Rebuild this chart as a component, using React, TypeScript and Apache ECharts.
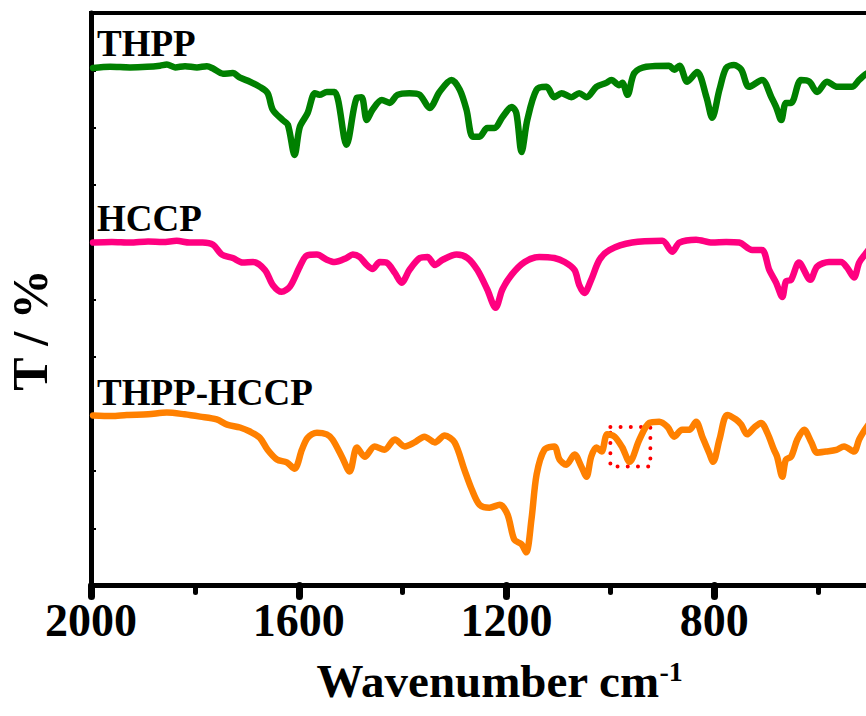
import React, { useEffect, useRef } from "react";
import * as echarts from "echarts";

// FTIR spectra: [wavenumber (cm-1), offset transmittance]
const thppPoints: [number, number][] = [
  [1996, 9.04], [1963, 9.06], [1925, 9.05], [1892, 9.06], [1867, 9.08], [1854, 9.1],
  [1838, 9.05], [1819, 9.07], [1796, 9.05], [1777, 9.07], [1765, 9.03], [1746, 8.94],
  [1727, 8.95], [1713, 8.87], [1694, 8.8], [1675, 8.71], [1660, 8.6], [1650, 8.31],
  [1631, 8.13], [1621, 8.05], [1608, 7.52], [1598, 8.01], [1583, 8.25], [1569, 8.6],
  [1560, 8.57], [1546, 8.62], [1531, 8.62], [1508, 7.7], [1488, 8.52], [1479, 8.53],
  [1469, 8.13], [1458, 8.31], [1440, 8.48], [1425, 8.43], [1410, 8.57], [1387, 8.6],
  [1367, 8.57], [1348, 8.34], [1329, 8.62], [1306, 8.83], [1290, 8.66], [1277, 8.31],
  [1265, 7.84], [1252, 7.84], [1237, 7.99], [1223, 7.99], [1208, 8.18], [1190, 8.36],
  [1181, 8.25], [1171, 7.57], [1160, 8.13], [1142, 8.66], [1123, 8.71], [1108, 8.53],
  [1094, 8.6], [1075, 8.53], [1060, 8.6], [1046, 8.53], [1027, 8.71], [1008, 8.78],
  [998, 8.83], [983, 8.74], [977, 8.78], [967, 8.57], [954, 8.95], [931, 9.06],
  [887, 9.08], [877, 9.01], [867, 9.08], [852, 8.8], [833, 8.97], [815, 8.53],
  [804, 8.17], [790, 8.66], [777, 9.04], [762, 9.09], [748, 9.01], [733, 8.71],
  [708, 8.83], [690, 8.53], [681, 8.36], [671, 8.13], [662, 8.43], [652, 8.43],
  [633, 8.83], [617, 8.8], [602, 8.62], [583, 8.8], [563, 8.71], [535, 8.71],
  [521, 8.83], [510, 8.92], [500, 8.97],
];

const hccpPoints: [number, number][] = [
  [1996, 5.99], [1960, 6.0], [1925, 5.99], [1890, 6.01], [1862, 6.0], [1835, 6.02],
  [1810, 5.99], [1785, 5.99], [1765, 5.95], [1748, 5.78], [1727, 5.72], [1708, 5.64],
  [1688, 5.65], [1665, 5.51], [1650, 5.25], [1633, 5.13], [1617, 5.22], [1598, 5.57],
  [1585, 5.76], [1565, 5.78], [1546, 5.69], [1531, 5.65], [1508, 5.72], [1496, 5.78],
  [1483, 5.74], [1469, 5.6], [1458, 5.53], [1444, 5.65], [1431, 5.64], [1415, 5.46],
  [1402, 5.29], [1387, 5.51], [1367, 5.72], [1352, 5.74], [1338, 5.6], [1323, 5.69],
  [1296, 5.78], [1275, 5.72], [1256, 5.51], [1237, 5.17], [1221, 4.85], [1208, 5.17],
  [1190, 5.43], [1165, 5.65], [1137, 5.74], [1108, 5.72], [1088, 5.65], [1069, 5.51],
  [1060, 5.25], [1050, 5.11], [1037, 5.34], [1021, 5.69], [1002, 5.86], [958, 5.99],
  [900, 6.02], [881, 5.83], [867, 5.99], [835, 6.04], [804, 5.99], [777, 6.0],
  [752, 5.99], [727, 5.86], [708, 5.86], [694, 5.51], [681, 5.29], [669, 5.04],
  [662, 5.31], [652, 5.34], [637, 5.64], [615, 5.34], [602, 5.57], [579, 5.65],
  [556, 5.65], [544, 5.55], [531, 5.38], [521, 5.64], [510, 5.78], [500, 5.9],
];

const thppHccpPoints: [number, number][] = [
  [1996, 2.97], [1960, 2.96], [1931, 2.98], [1890, 2.99], [1854, 3.02], [1820, 2.99],
  [1790, 2.95], [1758, 2.9], [1738, 2.81], [1713, 2.76], [1694, 2.69], [1675, 2.58],
  [1660, 2.37], [1642, 2.2], [1623, 2.15], [1608, 2.04], [1594, 2.37], [1583, 2.58],
  [1565, 2.67], [1546, 2.64], [1535, 2.55], [1517, 2.25], [1502, 1.99], [1488, 2.41],
  [1473, 2.25], [1454, 2.43], [1435, 2.37], [1415, 2.55], [1396, 2.43], [1377, 2.5],
  [1358, 2.6], [1338, 2.5], [1319, 2.62], [1300, 2.5], [1281, 2.02], [1267, 1.68],
  [1252, 1.41], [1233, 1.36], [1213, 1.41], [1198, 1.24], [1185, 0.8], [1171, 0.72],
  [1162, 0.58], [1152, 1.15], [1142, 1.94], [1127, 2.37], [1108, 2.43], [1098, 2.2],
  [1085, 2.11], [1069, 2.29], [1056, 2.08], [1046, 1.9], [1037, 2.25], [1027, 2.41],
  [1017, 2.34], [1006, 2.64], [992, 2.6], [977, 2.41], [963, 2.16], [944, 2.55],
  [925, 2.84], [906, 2.86], [890, 2.77], [877, 2.6], [862, 2.72], [848, 2.72],
  [835, 2.86], [823, 2.6], [810, 2.32], [802, 2.16], [790, 2.55], [775, 2.98],
  [758, 2.9], [748, 2.81], [737, 2.64], [723, 2.76], [710, 2.84], [698, 2.67],
  [685, 2.37], [679, 2.25], [669, 1.9], [662, 2.2], [652, 2.25], [640, 2.55],
  [627, 2.72], [613, 2.5], [602, 2.32], [585, 2.34], [565, 2.37], [550, 2.43],
  [531, 2.34], [521, 2.55], [510, 2.72], [500, 2.85],
];

const seriesNames = ["THPP", "HCCP", "THPP-HCCP"];
const seriesColors = ["#008000", "#FF0080", "#FF8000"];

// Highlighted band near 960 cm-1 on the composite spectrum
const highlightBand = { from: 1000, to: 923, low: 2.08, high: 2.77 };

const xMin = 400;
const xMax = 2000;
const xStep = 400;
// Tick values that carry a printed label
const labelledTicks = [2000, 1600, 1200, 800];

const SERIF = "Liberation Serif, Times New Roman, serif";

export default function App() {
  const ref = useRef<HTMLDivElement>(null);

  useEffect(() => {
    if (!ref.current) return;
    const chart = echarts.init(ref.current, null, { renderer: "svg" });

    const lineSeries = [thppPoints, hccpPoints, thppHccpPoints].map((pts, i) => ({
      name: seriesNames[i],
      type: "line",
      data: pts,
      showSymbol: false,
      smooth: 0.3,
      lineStyle: { color: seriesColors[i], width: 6.5, cap: "round", join: "round" },
      z: 3,
      ...(i === 2
        ? {
            markArea: {
              silent: true,
              itemStyle: {
                color: "rgba(0,0,0,0)",
                borderColor: "#FF0000",
                borderWidth: 4,
                borderType: [0.01, 10.2],
                borderCap: "round",
              },
              label: { show: false },
              data: [
                [
                  { xAxis: highlightBand.from, yAxis: highlightBand.high },
                  { xAxis: highlightBand.to, yAxis: highlightBand.low },
                ],
              ],
            },
          }
        : {}),
    }));

    const labelY = [45.5, 220.5, 394.5];

    chart.setOption({
      animation: false,
      backgroundColor: "#ffffff",
      grid: {
        left: 91,
        top: 13,
        width: 831,
        bottom: 130.5,
        show: true,
        borderColor: "#000",
        borderWidth: 4,
        containLabel: false,
      },
      xAxis: {
        type: "value",
        min: xMin,
        max: xMax,
        interval: xStep,
        inverse: true,
        axisLine: { show: true, lineStyle: { color: "#000", width: 5 } },
        axisTick: {
          show: true,
          inside: false,
          length: 11,
          lineStyle: { color: "#000", width: 7, cap: "round" },
        },
        minorTick: {
          show: true,
          splitNumber: 2,
          length: 7,
          lineStyle: { color: "#000", width: 5, cap: "round" },
        },
        splitLine: { show: false },
        minorSplitLine: { show: false },
        axisLabel: {
          margin: 12,
          color: "#000",
          fontFamily: SERIF,
          fontWeight: "bold",
          fontSize: 46,
          formatter: (v: number) => (labelledTicks.includes(v) ? String(v) : ""),
        },
        name: "{a|Wavenumber cm}{b|-1}",
        nameLocation: "middle",
        nameGap: 72,
        nameTextStyle: {
          padding: [0, 14, 0, 0],
          rich: {
            a: { fontFamily: SERIF, fontWeight: "bold", fontSize: 47, color: "#000" },
            b: {
              fontFamily: SERIF,
              fontWeight: "bold",
              fontSize: 28,
              color: "#000",
              verticalAlign: "top",
            },
          },
        },
      },
      yAxis: {
        type: "value",
        min: 0,
        max: 10,
        interval: 1,
        axisLine: { show: true, lineStyle: { color: "#000", width: 5 } },
        axisTick: { show: true, inside: true, length: 5, lineStyle: { color: "#000", width: 2 } },
        axisLabel: { show: false },
        splitLine: { show: false },
      },
      graphic: [
        ...seriesNames.map((name, i) => ({
          type: "text",
          left: 97,
          top: labelY[i] - 21,
          style: {
            text: name,
            fill: "#000",
            fontFamily: SERIF,
            fontWeight: "bold",
            fontSize: 37,
          },
          z: 10,
        })),
        {
          type: "text",
          x: 30,
          y: 330,
          rotation: Math.PI / 2,
          style: {
            text: "T / %",
            fill: "#000",
            fontFamily: SERIF,
            fontWeight: "bold",
            fontSize: 50,
            align: "center",
            verticalAlign: "middle",
          },
        },
      ],
      series: lineSeries,
    });

    return () => chart.dispose();
  }, []);

  return (
    <div style={{ position: "absolute", left: 0, top: 0, width: 866, height: 716, overflow: "hidden" }}>
      <div ref={ref} style={{ width: 960, height: 716 }} />
    </div>
  );
}
